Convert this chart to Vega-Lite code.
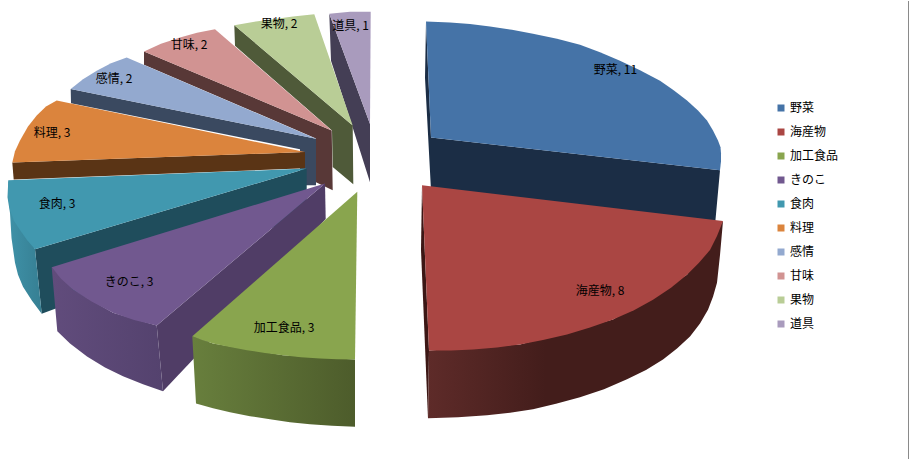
{
  "$schema": "https://vega.github.io/schema/vega-lite/v6.json",
  "autosize": {"type": "fit", "contains": "padding"},
  "width": 910,
  "height": 460,
  "padding": 0,
  "background": "white",
  "view": {"stroke": null},
  "datasets": {
    "sides": [
      {"part":"道具 cut","seq":1,"x":329.3,"y":12.7},{"part":"道具 cut","seq":2,"x":370,"y":123.5},{"part":"道具 cut","seq":3,"x":370,"y":182},{"part":"道具 cut","seq":4,"x":352.7,"y":127},{"part":"道具 cut","seq":5,"x":331,"y":60},
      {"part":"果物 cut","seq":1,"x":234.3,"y":24.3},{"part":"果物 cut","seq":2,"x":352.7,"y":125},{"part":"果物 cut","seq":3,"x":353.3,"y":184},{"part":"果物 cut","seq":4,"x":332.7,"y":166.7},{"part":"果物 cut","seq":5,"x":332,"y":130},{"part":"果物 cut","seq":6,"x":235,"y":45},
      {"part":"甘味 cut","seq":1,"x":144,"y":50.7},{"part":"甘味 cut","seq":2,"x":331.7,"y":130},{"part":"甘味 cut","seq":3,"x":332.7,"y":190},{"part":"甘味 cut","seq":4,"x":316,"y":182},{"part":"甘味 cut","seq":5,"x":316,"y":138},{"part":"甘味 cut","seq":6,"x":144,"y":64},
      {"part":"感情 cut","seq":1,"x":70.7,"y":88.3},{"part":"感情 cut","seq":2,"x":316,"y":138.3},{"part":"感情 cut","seq":3,"x":316,"y":185},{"part":"感情 cut","seq":4,"x":300,"y":185},{"part":"感情 cut","seq":5,"x":300,"y":149},{"part":"感情 cut","seq":6,"x":71,"y":102.7},
      {"part":"料理 cut","seq":1,"x":12.3,"y":162.3},{"part":"料理 cut","seq":2,"x":305,"y":151.7},{"part":"料理 cut","seq":3,"x":305,"y":168},{"part":"料理 cut","seq":4,"x":13.7,"y":179.3},
      {"part":"食肉 cut","seq":1,"x":35,"y":249.3},{"part":"食肉 cut","seq":2,"x":306.7,"y":168.3},{"part":"食肉 cut","seq":3,"x":306.7,"y":215},{"part":"食肉 cut","seq":4,"x":41.7,"y":314},
      {"part":"きのこ cut","seq":1,"x":156.7,"y":326},{"part":"きのこ cut","seq":2,"x":325,"y":183.3},{"part":"きのこ cut","seq":3,"x":325.7,"y":219},{"part":"きのこ cut","seq":4,"x":163,"y":392},
      {"part":"野菜 cut","seq":1,"x":426,"y":21},{"part":"野菜 cut","seq":2,"x":431,"y":137},{"part":"野菜 cut","seq":3,"x":720,"y":170},{"part":"野菜 cut","seq":4,"x":715,"y":225},{"part":"野菜 cut","seq":5,"x":431,"y":190},{"part":"野菜 cut","seq":6,"x":425,"y":77},
      {"part":"海産物 cut","seq":1,"x":422,"y":185},{"part":"海産物 cut","seq":2,"x":429,"y":351},{"part":"海産物 cut","seq":3,"x":428,"y":419},{"part":"海産物 cut","seq":4,"x":421,"y":250}
    ],
    "outer": [
      {"part":"食肉","seq":1,"x":8.3,"y":180},{"part":"食肉","seq":2,"x":7.5,"y":197},{"part":"食肉","seq":3,"x":10,"y":213},{"part":"食肉","seq":4,"x":11.5,"y":238},{"part":"食肉","seq":5,"x":15,"y":263},{"part":"食肉","seq":6,"x":18,"y":275},{"part":"食肉","seq":7,"x":23,"y":287},{"part":"食肉","seq":8,"x":32,"y":301},{"part":"食肉","seq":9,"x":41.7,"y":314},{"part":"食肉","seq":10,"x":35,"y":249.3},
      {"part":"きのこ","seq":1,"x":51.7,"y":267.3},{"part":"きのこ","seq":2,"x":57.3,"y":331.7},{"part":"きのこ","seq":3,"x":70,"y":344},{"part":"きのこ","seq":4,"x":87,"y":357},{"part":"きのこ","seq":5,"x":105,"y":368},{"part":"きのこ","seq":6,"x":123,"y":377},{"part":"きのこ","seq":7,"x":143,"y":385},{"part":"きのこ","seq":8,"x":163,"y":392},{"part":"きのこ","seq":9,"x":156.7,"y":326},{"part":"きのこ","seq":10,"x":113,"y":313},{"part":"きのこ","seq":11,"x":73,"y":290},
      {"part":"加工食品","seq":1,"x":192.3,"y":336.7},{"part":"加工食品","seq":2,"x":196,"y":404.3},{"part":"加工食品","seq":3,"x":213,"y":409},{"part":"加工食品","seq":4,"x":230,"y":413},{"part":"加工食品","seq":5,"x":250,"y":417},{"part":"加工食品","seq":6,"x":270,"y":420},{"part":"加工食品","seq":7,"x":290,"y":423},{"part":"加工食品","seq":8,"x":310,"y":425},{"part":"加工食品","seq":9,"x":332,"y":426.7},{"part":"加工食品","seq":10,"x":355,"y":427.7},{"part":"加工食品","seq":11,"x":355,"y":360},{"part":"加工食品","seq":12,"x":283,"y":355.7},{"part":"加工食品","seq":13,"x":213,"y":344},
      {"part":"海産物","seq":1,"x":723,"y":221},{"part":"海産物","seq":2,"x":720,"y":255},{"part":"海産物","seq":3,"x":717,"y":283},{"part":"海産物","seq":4,"x":713,"y":297},{"part":"海産物","seq":5,"x":708,"y":310},{"part":"海産物","seq":6,"x":700,"y":324},{"part":"海産物","seq":7,"x":690,"y":337},{"part":"海産物","seq":8,"x":677,"y":349},{"part":"海産物","seq":9,"x":663,"y":360},{"part":"海産物","seq":10,"x":646,"y":370.5},{"part":"海産物","seq":11,"x":627,"y":380},{"part":"海産物","seq":12,"x":604,"y":390},{"part":"海産物","seq":13,"x":580,"y":398},{"part":"海産物","seq":14,"x":556,"y":404.5},{"part":"海産物","seq":15,"x":533,"y":410},{"part":"海産物","seq":16,"x":510,"y":413.5},{"part":"海産物","seq":17,"x":487,"y":416},{"part":"海産物","seq":18,"x":458,"y":418},{"part":"海産物","seq":19,"x":428,"y":419},{"part":"海産物","seq":20,"x":429,"y":351},{"part":"海産物","seq":21,"x":520,"y":345},{"part":"海産物","seq":22,"x":613,"y":320},{"part":"海産物","seq":23,"x":687,"y":275}
    ],
    "tops": [
      {"item":"道具","seq":1,"x":329.3,"y":12.7},{"item":"道具","seq":2,"x":350,"y":10.7},{"item":"道具","seq":3,"x":370.7,"y":10.7},{"item":"道具","seq":4,"x":370,"y":123.5},
      {"item":"果物","seq":1,"x":234.3,"y":24.3},{"item":"果物","seq":2,"x":253,"y":21},{"item":"果物","seq":3,"x":273,"y":18.3},{"item":"果物","seq":4,"x":293,"y":15.5},{"item":"果物","seq":5,"x":314.3,"y":13.3},{"item":"果物","seq":6,"x":352.7,"y":125},
      {"item":"甘味","seq":1,"x":144,"y":50.7},{"item":"甘味","seq":2,"x":161,"y":43},{"item":"甘味","seq":3,"x":180,"y":36.7},{"item":"甘味","seq":4,"x":197,"y":32},{"item":"甘味","seq":5,"x":215,"y":28.3},{"item":"甘味","seq":6,"x":331.7,"y":130},
      {"item":"感情","seq":1,"x":70.7,"y":88.3},{"item":"感情","seq":2,"x":83,"y":78.5},{"item":"感情","seq":3,"x":96.7,"y":70},{"item":"感情","seq":4,"x":111,"y":62.5},{"item":"感情","seq":5,"x":126.7,"y":56.7},{"item":"感情","seq":6,"x":316,"y":138.3},
      {"item":"料理","seq":1,"x":12.3,"y":162.3},{"item":"料理","seq":2,"x":15,"y":151},{"item":"料理","seq":3,"x":20,"y":140},{"item":"料理","seq":4,"x":28,"y":126},{"item":"料理","seq":5,"x":36.7,"y":115},{"item":"料理","seq":6,"x":46,"y":106},{"item":"料理","seq":7,"x":56.7,"y":100},{"item":"料理","seq":8,"x":305,"y":151.7},
      {"item":"食肉","seq":1,"x":8.3,"y":180},{"item":"食肉","seq":2,"x":8,"y":195},{"item":"食肉","seq":3,"x":10,"y":210},{"item":"食肉","seq":4,"x":14,"y":221},{"item":"食肉","seq":5,"x":20,"y":230},{"item":"食肉","seq":6,"x":27,"y":240},{"item":"食肉","seq":7,"x":35,"y":249.3},{"item":"食肉","seq":8,"x":306.7,"y":168.3},
      {"item":"きのこ","seq":1,"x":51.7,"y":267.3},{"item":"きのこ","seq":2,"x":61,"y":279},{"item":"きのこ","seq":3,"x":73,"y":290},{"item":"きのこ","seq":4,"x":92,"y":302},{"item":"きのこ","seq":5,"x":113,"y":313},{"item":"きのこ","seq":6,"x":134,"y":320.5},{"item":"きのこ","seq":7,"x":156.7,"y":326},{"item":"きのこ","seq":8,"x":325,"y":183.3},
      {"item":"加工食品","seq":1,"x":192.3,"y":336.7},{"item":"加工食品","seq":2,"x":202,"y":340.5},{"item":"加工食品","seq":3,"x":213,"y":344},{"item":"加工食品","seq":4,"x":230,"y":347.5},{"item":"加工食品","seq":5,"x":247,"y":350.7},{"item":"加工食品","seq":6,"x":265,"y":353.5},{"item":"加工食品","seq":7,"x":283,"y":355.7},{"item":"加工食品","seq":8,"x":301,"y":357.7},{"item":"加工食品","seq":9,"x":320,"y":359},{"item":"加工食品","seq":10,"x":337,"y":359.7},{"item":"加工食品","seq":11,"x":355,"y":360},{"item":"加工食品","seq":12,"x":357.3,"y":191.7},
      {"item":"野菜","seq":1,"x":426,"y":20.7},{"item":"野菜","seq":2,"x":450,"y":21.7},{"item":"野菜","seq":3,"x":470,"y":23.2},{"item":"野菜","seq":4,"x":490,"y":25.7},{"item":"野菜","seq":5,"x":512,"y":29},{"item":"野菜","seq":6,"x":533,"y":33},{"item":"野菜","seq":7,"x":557,"y":38},{"item":"野菜","seq":8,"x":580,"y":44},{"item":"野菜","seq":9,"x":600,"y":51.5},{"item":"野菜","seq":10,"x":620,"y":60},{"item":"野菜","seq":11,"x":640,"y":69.5},{"item":"野菜","seq":12,"x":660,"y":80},{"item":"野菜","seq":13,"x":674,"y":90},{"item":"野菜","seq":14,"x":687,"y":100},{"item":"野菜","seq":15,"x":698,"y":110},{"item":"野菜","seq":16,"x":707,"y":120},{"item":"野菜","seq":17,"x":713,"y":130},{"item":"野菜","seq":18,"x":718,"y":140},{"item":"野菜","seq":19,"x":720.5,"y":147},{"item":"野菜","seq":20,"x":721,"y":153},{"item":"野菜","seq":21,"x":721,"y":161},{"item":"野菜","seq":22,"x":720,"y":170},{"item":"野菜","seq":23,"x":431,"y":137},
      {"item":"海産物","seq":1,"x":422,"y":185},{"item":"海産物","seq":2,"x":723,"y":221},{"item":"海産物","seq":3,"x":717,"y":236},{"item":"海産物","seq":4,"x":710,"y":250},{"item":"海産物","seq":5,"x":699,"y":263},{"item":"海産物","seq":6,"x":687,"y":275},{"item":"海産物","seq":7,"x":671,"y":288},{"item":"海産物","seq":8,"x":653,"y":300},{"item":"海産物","seq":9,"x":634,"y":310.5},{"item":"海産物","seq":10,"x":613,"y":320},{"item":"海産物","seq":11,"x":590,"y":328},{"item":"海産物","seq":12,"x":567,"y":335},{"item":"海産物","seq":13,"x":543,"y":340.5},{"item":"海産物","seq":14,"x":520,"y":345},{"item":"海産物","seq":15,"x":497,"y":348},{"item":"海産物","seq":16,"x":473,"y":350},{"item":"海産物","seq":17,"x":451,"y":351},{"item":"海産物","seq":18,"x":429,"y":351}
    ],
    "labels": [
      {"label":"野菜, 11","x":615.5,"y":69},
      {"label":"海産物, 8","x":600,"y":291},
      {"label":"加工食品, 3","x":284,"y":328},
      {"label":"きのこ, 3","x":129,"y":282},
      {"label":"食肉, 3","x":57,"y":204},
      {"label":"料理, 3","x":52,"y":133},
      {"label":"感情, 2","x":114,"y":78},
      {"label":"甘味, 2","x":189,"y":44},
      {"label":"果物, 2","x":279,"y":23},
      {"label":"道具, 1","x":350.5,"y":25}
    ]
  },
  "encoding": {
    "x": {"field": "x", "type": "quantitative", "scale": {"domain": [0, 910], "nice": false, "zero": false}, "axis": null},
    "y": {"field": "y", "type": "quantitative", "scale": {"domain": [460, 0], "nice": false, "zero": false}, "axis": null},
    "order": {"field": "seq", "type": "quantitative"}
  },
  "layer": [
    {
      "data": {"name": "sides"},
      "mark": {"type": "line", "strokeWidth": 0},
      "encoding": {
        "detail": {"field": "part"},
        "fill": {
          "field": "part",
          "type": "nominal",
          "legend": null,
          "scale": {
            "domain": ["道具 cut","果物 cut","甘味 cut","感情 cut","料理 cut","食肉 cut","きのこ cut","野菜 cut","海産物 cut"],
            "range": ["#443e55","#4f5a39","#583837","#3a4960","#5a3415","#1f4d5c","#503d66","#1b2d45","#3c1715"]
          }
        }
      }
    },
    {
      "data": {"name": "outer"},
      "transform": [{"filter": "datum.part === '食肉'"}],
      "mark": {"type": "line", "strokeWidth": 0, "fill": {"gradient":"linear","x1":0,"y1":0,"x2":1,"y2":0,"stops":[{"offset":0,"color":"#3f92a8"},{"offset":1,"color":"#367f93"}]}}
    },
    {
      "data": {"name": "outer"},
      "transform": [{"filter": "datum.part === 'きのこ'"}],
      "mark": {"type": "line", "strokeWidth": 0, "fill": {"gradient":"linear","x1":0,"y1":0,"x2":1,"y2":0,"stops":[{"offset":0,"color":"#614c7c"},{"offset":1,"color":"#54426e"}]}}
    },
    {
      "data": {"name": "outer"},
      "transform": [{"filter": "datum.part === '加工食品'"}],
      "mark": {"type": "line", "strokeWidth": 0, "fill": {"gradient":"linear","x1":0,"y1":0,"x2":1,"y2":0,"stops":[{"offset":0,"color":"#687f3d"},{"offset":1,"color":"#4d5c2b"}]}}
    },
    {
      "data": {"name": "outer"},
      "transform": [{"filter": "datum.part === '海産物'"}],
      "mark": {"type": "line", "strokeWidth": 0, "fill": {"gradient":"linear","x1":0,"y1":0,"x2":1,"y2":0,"stops":[{"offset":0,"color":"#5e2b29"},{"offset":0.4,"color":"#431d1b"},{"offset":1,"color":"#431d1b"}]}}
    },
    {
      "data": {"name": "tops"},
      "mark": {"type": "line", "strokeWidth": 0},
      "encoding": {
        "detail": {"field": "item"},
        "fill": {
          "field": "item",
          "type": "nominal",
          "scale": {
            "domain": ["野菜","海産物","加工食品","きのこ","食肉","料理","感情","甘味","果物","道具"],
            "range": ["#4573a7","#aa4643","#89a54e","#71588f","#4198af","#db843d","#93a9cf","#d19392","#b9cd96","#a99bbd"]
          },
          "legend": {
            "title": null,
            "orient": "none",
            "legendX": 775,
            "legendY": 101,
            "symbolType": "square",
            "symbolSize": 49,
            "symbolStrokeWidth": 0,
            "labelFont": "Noto Sans CJK JP",
            "labelFontSize": 12,
            "labelColor": "#000000",
            "labelOffset": 3,
            "rowPadding": 12
          }
        }
      }
    },
    {
      "data": {"name": "labels"},
      "mark": {"type": "text", "font": "Noto Sans CJK JP", "fontSize": 12, "color": "#000000"},
      "encoding": {"text": {"field": "label", "type": "nominal"}, "order": null}
    },
    {
      "data": {"values": [{"edge": 908.5}]},
      "mark": {"type": "rule", "color": "#8a8a8a", "strokeWidth": 1},
      "encoding": {"x": {"field": "edge", "type": "quantitative"}, "y": null, "order": null}
    }
  ],
  "resolve": {"scale": {"fill": "independent"}}
}
